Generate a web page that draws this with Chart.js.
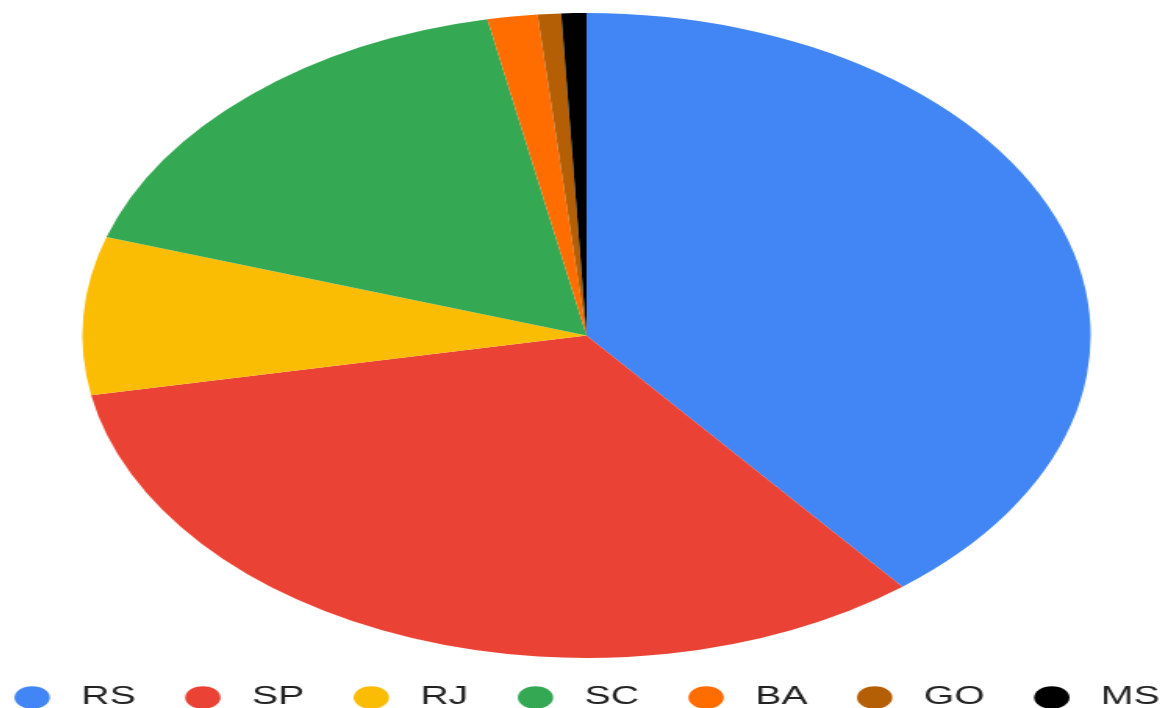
<!DOCTYPE html>
<html>
<head>
<meta charset="utf-8">
<script src="https://cdn.jsdelivr.net/npm/chart.js@4/dist/chart.umd.min.js"></script>
<style>
  html, body { margin: 0; padding: 0; background: #fff; overflow: hidden; }
  /* the reference is stretched sideways, so draw narrow and stretch with css;
     nudged right a little so the pie sits where it does in the original */
  #chart { display: block; position: absolute; left: 5px; top: 0;
           width: 1163px !important; height: 708px !important; }
</style>
</head>
<body>
<canvas id="chart" width="744" height="708"></canvas>
<script>
// States and their share of the total (%)
const states = ['RS', 'SP', 'RJ', 'SC', 'BA', 'GO', 'MS'];
const shares = [39.2, 32.8, 7.9, 16.9, 1.6, 0.75, 0.8];
const colors = ['#4285F4', '#EA4335', '#FBBC04', '#34A853', '#FF6D01', '#B45F06', '#000000'];

const ctx = document.getElementById('chart').getContext('2d');
const chart = new Chart(ctx, {
    type: 'pie',
    data: {
        labels: states,
        datasets: [{
            data: shares,
            backgroundColor: colors,
            borderWidth: 0,
            radius: 322.5
        }]
    },
    options: {
        responsive: false,
        animation: false,
        devicePixelRatio: 1,
        // negative sides give the legend room for one row
        layout: { padding: { top: 17, bottom: -12, left: -28, right: -28 } },
        plugins: {
            tooltip: { enabled: false },
            legend: {
                position: 'bottom',
                labels: {
                    usePointStyle: true,
                    pointStyle: 'circle',
                    boxHeight: 16,
                    boxWidth: 24,
                    padding: 31,
                    color: '#222222',
                    font: { family: 'Liberation Sans', size: 25 },
                    // a leading space widens the gap between dot and text
                    generateLabels: function(chart) {
                        const items = Chart.overrides.pie.plugins.legend.labels.generateLabels(chart);
                        items.forEach(function(item) { item.text = ' ' + item.text; });
                        return items;
                    }
                }
            }
        }
    }
});
</script>
</body>
</html>
